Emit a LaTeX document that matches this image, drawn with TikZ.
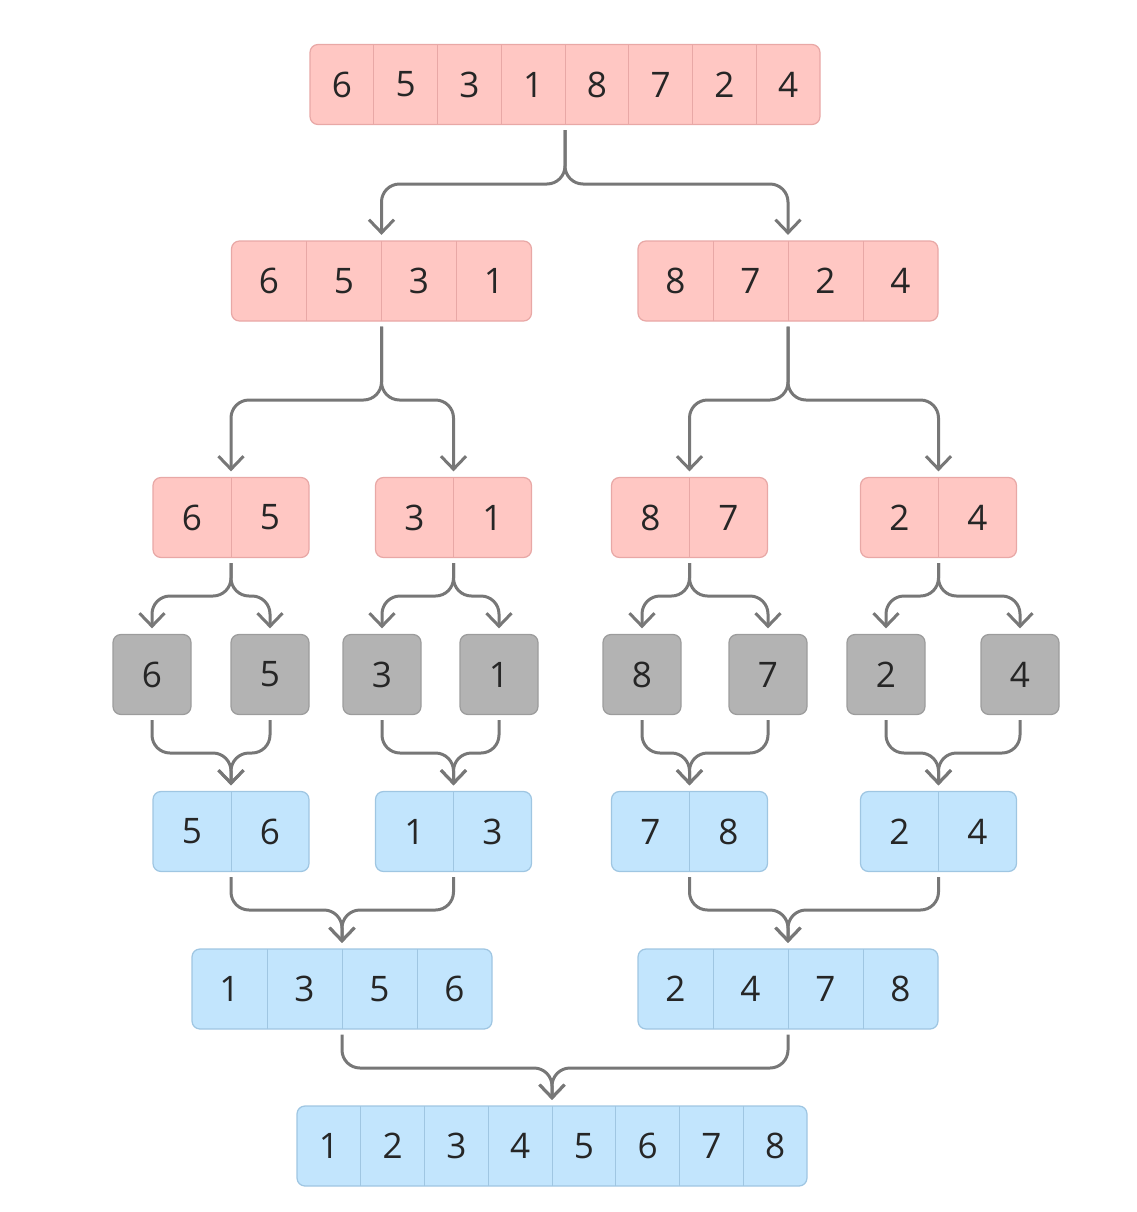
\documentclass[tikz,border=0pt]{standalone}
\usepackage{fontspec}
\setmainfont{Open Sans}
\usetikzlibrary{arrows.meta}
\definecolor{pinkF}{HTML}{FFC7C3}
\definecolor{pinkD}{HTML}{E8A8A6}
\definecolor{blueF}{HTML}{C2E5FD}
\definecolor{blueD}{HTML}{9FC6E2}
\definecolor{grayF}{HTML}{B3B3B3}
\definecolor{grayD}{HTML}{9C9C9C}
\definecolor{lineC}{HTML}{777777}
\definecolor{txt}{HTML}{262626}
\newcommand\mkarr[7]{% name, cx, cy, cell width (px), n, colour family, values
  \node[box, fill=#6F, draw=#6D, minimum width={#5*#4*0.2mm}, minimum height=16mm] (#1) at (#2,#3) {};
  \pgfmathtruncatemacro\mknm{#5-1}
  \ifnum\mknm>0
    \foreach \i in {1,...,\mknm} {
      \draw[line width=0.2mm, draw=#6D] ({#2-#5*#4/2+\i*#4},{#3-40}) -- ({#2-#5*#4/2+\i*#4},{#3+40});
    }
  \fi
  \foreach \v [count=\i] in {#7} {
    \node[digit] (#1-\i) at ({#2-#5*#4/2+(\i-0.5)*#4},#3) {\v};
  }
}
\begin{document}
\begin{tikzpicture}[x=0.2mm,y=-0.2mm,
  box/.style={rounded corners=1.6mm, line width=0.25mm, inner sep=0pt},
  digit/.style={font=\fontsize{20}{24}\selectfont, text=txt, inner sep=0pt},
  conn/.style={draw=lineC, line width=0.6mm, rounded corners=3.6mm, shorten <=1mm, shorten >=1.1mm, -{Straight Barb[length=2.6mm,width=5mm]}}]
\useasboundingbox (0,0) rectangle (1137,1212);
% level 1
\mkarr{top}{565}{84.5}{63.75}{8}{pink}{6,5,3,1,8,7,2,4}
% level 2
\mkarr{La}{381.5}{281}{75}{4}{pink}{6,5,3,1}
\mkarr{Lb}{788}{281}{75}{4}{pink}{8,7,2,4}
% level 3
\mkarr{Ma}{231}{517.5}{78}{2}{pink}{6,5}
\mkarr{Mb}{453.5}{517.5}{78}{2}{pink}{3,1}
\mkarr{Mc}{689.5}{517.5}{78}{2}{pink}{8,7}
\mkarr{Md}{938.5}{517.5}{78}{2}{pink}{2,4}
% level 4
\mkarr{g1}{152}{674.5}{78}{1}{gray}{6}
\mkarr{g2}{270}{674.5}{78}{1}{gray}{5}
\mkarr{g3}{382}{674.5}{78}{1}{gray}{3}
\mkarr{g4}{499}{674.5}{78}{1}{gray}{1}
\mkarr{g5}{642}{674.5}{78}{1}{gray}{8}
\mkarr{g6}{768}{674.5}{78}{1}{gray}{7}
\mkarr{g7}{886}{674.5}{78}{1}{gray}{2}
\mkarr{g8}{1020}{674.5}{78}{1}{gray}{4}
% level 5
\mkarr{Sa}{231}{831.5}{78}{2}{blue}{5,6}
\mkarr{Sb}{453.5}{831.5}{78}{2}{blue}{1,3}
\mkarr{Sc}{689.5}{831.5}{78}{2}{blue}{7,8}
\mkarr{Sd}{938.5}{831.5}{78}{2}{blue}{2,4}
% level 6
\mkarr{Ta}{342}{989}{75}{4}{blue}{1,3,5,6}
\mkarr{Tb}{788}{989}{75}{4}{blue}{2,4,7,8}
% level 7
\mkarr{bot}{552}{1146}{63.75}{8}{blue}{1,2,3,4,5,6,7,8}
% horizontal levels of connectors
\coordinate (h1) at (0,184);
\coordinate (h2) at (0,400);
\coordinate (h3) at (0,596);
\coordinate (h4) at (0,753);
\coordinate (h5) at (0,910);
\coordinate (h6) at (0,1068);
% splits
\draw[conn] (top.south) -- (top.south |- h1) -| (La.north);
\draw[conn] (top.south) -- (top.south |- h1) -| (Lb.north);
\draw[conn] (La.south) -- (La.south |- h2) -| (Ma.north);
\draw[conn] (La.south) -- (La.south |- h2) -| (Mb.north);
\draw[conn] (Lb.south) -- (Lb.south |- h2) -| (Mc.north);
\draw[conn] (Lb.south) -- (Lb.south |- h2) -| (Md.north);
\draw[conn] (Ma.south) -- (Ma.south |- h3) -| (g1.north);
\draw[conn] (Ma.south) -- (Ma.south |- h3) -| (g2.north);
\draw[conn] (Mb.south) -- (Mb.south |- h3) -| (g3.north);
\draw[conn] (Mb.south) -- (Mb.south |- h3) -| (g4.north);
\draw[conn] (Mc.south) -- (Mc.south |- h3) -| (g5.north);
\draw[conn] (Mc.south) -- (Mc.south |- h3) -| (g6.north);
\draw[conn] (Md.south) -- (Md.south |- h3) -| (g7.north);
\draw[conn] (Md.south) -- (Md.south |- h3) -| (g8.north);
% merges
\draw[conn] (g1.south) -- (g1.south |- h4) -| (Sa.north);
\draw[conn] (g2.south) -- (g2.south |- h4) -| (Sa.north);
\draw[conn] (g3.south) -- (g3.south |- h4) -| (Sb.north);
\draw[conn] (g4.south) -- (g4.south |- h4) -| (Sb.north);
\draw[conn] (g5.south) -- (g5.south |- h4) -| (Sc.north);
\draw[conn] (g6.south) -- (g6.south |- h4) -| (Sc.north);
\draw[conn] (g7.south) -- (g7.south |- h4) -| (Sd.north);
\draw[conn] (g8.south) -- (g8.south |- h4) -| (Sd.north);
\draw[conn] (Sa.south) -- (Sa.south |- h5) -| (Ta.north);
\draw[conn] (Sb.south) -- (Sb.south |- h5) -| (Ta.north);
\draw[conn] (Sc.south) -- (Sc.south |- h5) -| (Tb.north);
\draw[conn] (Sd.south) -- (Sd.south |- h5) -| (Tb.north);
\draw[conn] (Ta.south) -- (Ta.south |- h6) -| (bot.north);
\draw[conn] (Tb.south) -- (Tb.south |- h6) -| (bot.north);
\end{tikzpicture}
\end{document}
